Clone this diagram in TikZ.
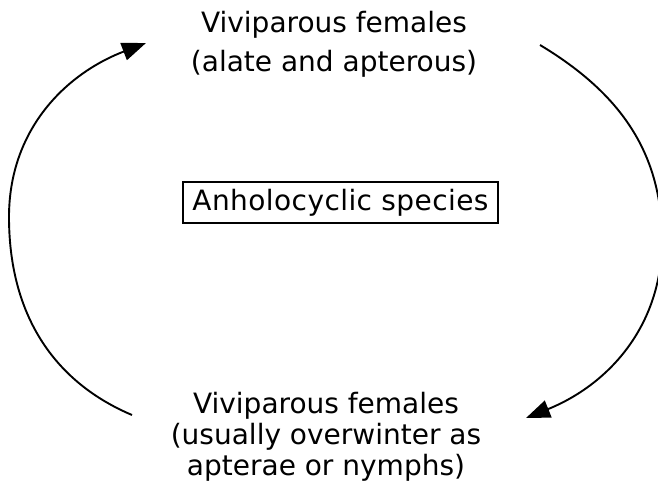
\documentclass[tikz,border=0pt]{standalone}
\usepackage{fontspec}
\setmainfont{DejaVu Sans}
\usetikzlibrary{arrows.meta}
\tikzset{
  lbl/.style={align=center, inner sep=0pt, font=\fontsize{28}{#1}\selectfont},
  boxed/.style={draw, line width=1.3pt, inner sep=0pt, minimum width=315pt, minimum height=41pt, font=\fontsize{28}{34}\selectfont\addfontfeature{LetterSpace=1.5}},
  cyc/.style={line width=1.9pt, -{Triangle[length=24pt,width=18pt]}}
}
\begin{document}
\begin{tikzpicture}[x=1pt,y=1pt]
\useasboundingbox (0,0) rectangle (658,493);
\clip (0,0) rectangle (658,493);
\node[lbl=39] (top) at (334,449) {Viviparous females\\(alate and apterous)};
\node[boxed] (mid) at (340.5,290.5) {Anholocyclic species};
\node[lbl=31] (bot) at (326,56) {Viviparous females\\(usually overwinter as\\apterae or nymphs)};
\coordinate (l0) at (132,78);
\coordinate (l1) at (9,276);
\coordinate (l2) at (146,450);
\coordinate (r0) at (540,448);
\coordinate (r1) at (662,253);
\coordinate (r2) at (526,75);
\draw[cyc] (l0) to[out=157,in=-90] (l1) to[out=90,in=201] (l2);
\draw[cyc] (r0) to[out=-31,in=90] (r1) to[out=-90,in=22] (r2);
\end{tikzpicture}
\end{document}
